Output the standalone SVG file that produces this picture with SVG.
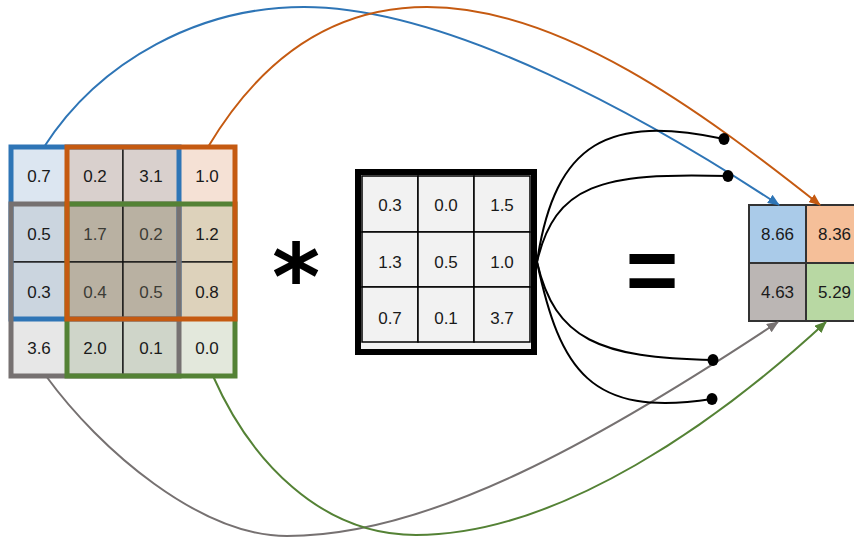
<svg xmlns="http://www.w3.org/2000/svg" width="854" height="543" viewBox="0 0 854 543">
<style>
.t{font-family:"Liberation Sans",Arial,sans-serif;font-size:17px;text-anchor:middle;fill:#1a1a1a}
.tc{fill:#3c3c36}
.cell{stroke:#111;stroke-width:1.3}
.box{fill:none;stroke-width:5}
.k{fill:#f2f2f2;stroke:#000;stroke-width:1.5}
.o{stroke:#333;stroke-width:2}
.c{fill:none;stroke-width:2}
.op{font-family:"Liberation Sans",Arial,sans-serif;font-weight:bold;text-anchor:middle;fill:#000}
.ast{font-family:"DejaVu Sans",sans-serif;font-weight:bold;text-anchor:middle;fill:#000}
</style>
<defs>
<marker id="ab" viewBox="0 0 12 10" refX="11" refY="5" markerWidth="12" markerHeight="10" markerUnits="userSpaceOnUse" orient="auto"><path d="M0,0 L12,5 L0,10 z" fill="#2e75b6"/></marker>
<marker id="ao" viewBox="0 0 12 10" refX="11" refY="5" markerWidth="12" markerHeight="10" markerUnits="userSpaceOnUse" orient="auto"><path d="M0,0 L12,5 L0,10 z" fill="#c55a11"/></marker>
<marker id="ag" viewBox="0 0 12 10" refX="11" refY="5" markerWidth="12" markerHeight="10" markerUnits="userSpaceOnUse" orient="auto"><path d="M0,0 L12,5 L0,10 z" fill="#767171"/></marker>
<marker id="an" viewBox="0 0 12 10" refX="11" refY="5" markerWidth="12" markerHeight="10" markerUnits="userSpaceOnUse" orient="auto"><path d="M0,0 L12,5 L0,10 z" fill="#548235"/></marker>
</defs>

<g id="input">
<rect class="cell" x="11" y="147" width="56" height="57" fill="#dce6f1"/>
<rect class="cell" x="67" y="147" width="56" height="57" fill="#d9d0cd"/>
<rect class="cell" x="123" y="147" width="56" height="57" fill="#d9d0cd"/>
<rect class="cell" x="179" y="147" width="56" height="57" fill="#f5e1d5"/>
<rect class="cell" x="11" y="204" width="56" height="58" fill="#cbd5df"/>
<rect class="cell" x="67" y="204" width="56" height="58" fill="#b9b1a2"/>
<rect class="cell" x="123" y="204" width="56" height="58" fill="#b9b1a2"/>
<rect class="cell" x="179" y="204" width="56" height="58" fill="#ddd2bb"/>
<rect class="cell" x="11" y="262" width="56" height="57" fill="#cbd5df"/>
<rect class="cell" x="67" y="262" width="56" height="57" fill="#b9b1a2"/>
<rect class="cell" x="123" y="262" width="56" height="57" fill="#b9b1a2"/>
<rect class="cell" x="179" y="262" width="56" height="57" fill="#ddd2bb"/>
<rect class="cell" x="11" y="319" width="56" height="57" fill="#e7e7e7"/>
<rect class="cell" x="67" y="319" width="56" height="57" fill="#cfd5c9"/>
<rect class="cell" x="123" y="319" width="56" height="57" fill="#cfd5c9"/>
<rect class="cell" x="179" y="319" width="56" height="57" fill="#e3e8dc"/>
<rect class="box" x="11" y="147" width="168" height="172" stroke="#2e75b6"/>
<rect class="box" x="11" y="204" width="168" height="172" stroke="#767171"/>
<rect class="box" x="67" y="204" width="168" height="172" stroke="#548235"/>
<rect class="box" x="67" y="147" width="168" height="172" stroke="#c55a11"/>
<text class="t" x="39" y="182">0.7</text>
<text class="t" x="95" y="182">0.2</text>
<text class="t" x="151" y="182">3.1</text>
<text class="t" x="207" y="182">1.0</text>
<text class="t" x="39" y="240">0.5</text>
<text class="t tc" x="95" y="240">1.7</text>
<text class="t tc" x="151" y="240">0.2</text>
<text class="t" x="207" y="240">1.2</text>
<text class="t" x="39" y="298">0.3</text>
<text class="t tc" x="95" y="298">0.4</text>
<text class="t tc" x="151" y="298">0.5</text>
<text class="t" x="207" y="298">0.8</text>
<text class="t" x="39" y="354">3.6</text>
<text class="t" x="95" y="354">2.0</text>
<text class="t" x="151" y="354">0.1</text>
<text class="t" x="207" y="354">0.0</text>
</g>

<g id="conv-op"><text class="ast" x="296" y="310" font-size="92">*</text></g>

<g id="kernel">
<rect x="358" y="172" width="176" height="180" fill="#f2f2f2" stroke="#000" stroke-width="6"/>
<rect class="k" x="362" y="176" width="56" height="56"/>
<rect class="k" x="418" y="176" width="56" height="56"/>
<rect class="k" x="474" y="176" width="56" height="56"/>
<rect class="k" x="362" y="232" width="56" height="55"/>
<rect class="k" x="418" y="232" width="56" height="55"/>
<rect class="k" x="474" y="232" width="56" height="55"/>
<rect class="k" x="362" y="287" width="56" height="55"/>
<rect class="k" x="418" y="287" width="56" height="55"/>
<rect class="k" x="474" y="287" width="56" height="55"/>
<text class="t" x="390" y="211">0.3</text>
<text class="t" x="446" y="211">0.0</text>
<text class="t" x="502" y="211">1.5</text>
<text class="t" x="390" y="268">1.3</text>
<text class="t" x="446" y="268">0.5</text>
<text class="t" x="502" y="268">1.0</text>
<text class="t" x="390" y="324">0.7</text>
<text class="t" x="446" y="324">0.1</text>
<text class="t" x="502" y="324">3.7</text>
</g>

<g id="equals-op"><text class="op" x="652" y="301" font-size="90">=</text></g>

<g id="output">
<rect class="o" x="749" y="205" width="57" height="58" fill="#aacbe9"/>
<rect class="o" x="806" y="205" width="57" height="58" fill="#f5bf99"/>
<rect class="o" x="749" y="263" width="57" height="58" fill="#bbb6b4"/>
<rect class="o" x="806" y="263" width="57" height="58" fill="#b8d8a3"/>
<text class="t" x="777.5" y="240">8.66</text>
<text class="t" x="834.5" y="240">8.36</text>
<text class="t" x="777.5" y="298">4.63</text>
<text class="t" x="834.5" y="298">5.29</text>
</g>

<g id="connectors">
<path class="c" stroke="#2e75b6" d="M44,147 C100,60 200,7 304,7 C450,7 650,120 779,205" marker-end="url(#ab)"/>
<path class="c" stroke="#c55a11" d="M208,147 C260,60 330,7 427,7 C560,7 700,110 820,205" marker-end="url(#ao)"/>
<path class="c" stroke="#767171" d="M46,376 C100,450 200,536 287,536 C430,536 600,440 778,322" marker-end="url(#ag)"/>
<path class="c" stroke="#548235" d="M213,376 C250,460 320,535 416,535 C560,535 720,420 826,322" marker-end="url(#an)"/>
<path class="c" stroke="#000" d="M537,262 C555,140 610,115 724,139"/>
<path class="c" stroke="#000" d="M537,262 C555,185 600,172 728,176"/>
<path class="c" stroke="#000" d="M537,262 C555,340 600,358 713,360"/>
<path class="c" stroke="#000" d="M537,262 C560,370 590,418 712,399"/>
<ellipse cx="724" cy="139" rx="5.5" ry="6" fill="#000"/>
<ellipse cx="728" cy="176" rx="5.5" ry="6" fill="#000"/>
<ellipse cx="713" cy="360" rx="5.5" ry="6" fill="#000"/>
<ellipse cx="712" cy="399" rx="5.5" ry="6" fill="#000"/>
</g>
</svg>
